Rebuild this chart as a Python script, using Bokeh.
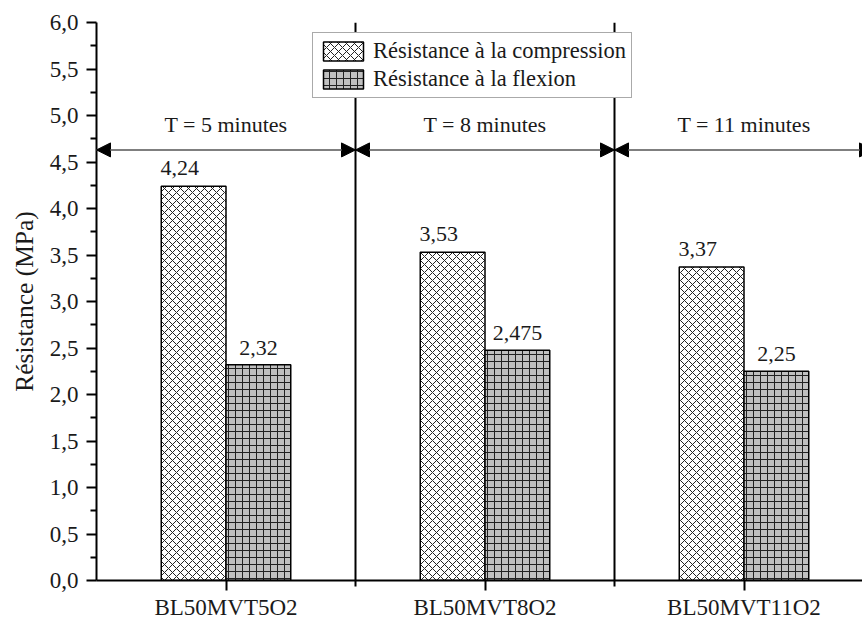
from bokeh.plotting import figure
from bokeh.models import (ColumnDataSource, FixedTicker, CustomJSTickFormatter, Span,
                          Arrow, NormalHead, Legend, LegendItem, Range1d, LabelSet, Label)
from bokeh.embed import file_html
from bokeh.resources import INLINE

categories = ["BL50MVT5O2", "BL50MVT8O2", "BL50MVT11O2"]
compression = [4.24, 3.53, 3.37]
flexion = [2.32, 2.475, 2.25]
periods = ["T = 5 minutes", "T = 8 minutes", "T = 11 minutes"]
series_names = ["Résistance à la compression", "Résistance à la flexion"]
y_ticks = [0.0, 0.5, 1.0, 1.5, 2.0, 2.5, 3.0, 3.5, 4.0, 4.5, 5.0, 5.5, 6.0]
arrow_level = 4.63
period_text_level = 4.9

FONT = "Liberation Serif"
TXT = "#1a1a1a"

centers = [i + 0.5 for i in range(len(categories))]
bw = 0.25

p = figure(output_backend="svg", toolbar_location=None,
           frame_width=766, frame_height=558,
           min_border_left=96, min_border_right=0, min_border_top=22, min_border_bottom=41,
           x_range=Range1d(0, 766 / 259.0), y_range=Range1d(0, 6.0))
p.outline_line_color = None
p.xgrid.visible = False
p.ygrid.visible = False
p.background_fill_color = "white"
p.border_fill_color = "white"

src_c = ColumnDataSource(dict(x=[c - bw / 2 for c in centers], top=compression,
                              lab=[str(v).replace(".", ",") for v in compression]))
src_f = ColumnDataSource(dict(x=[c + bw / 2 for c in centers], top=flexion,
                              lab=[str(v).replace(".", ",") for v in flexion]))

rc = p.vbar(x="x", top="top", width=bw, bottom=0, source=src_c,
            fill_color="white", line_color="black", line_width=1.5,
            hatch_pattern="diagonal_cross", hatch_color="#222222", hatch_weight=1, hatch_scale=8)
rf = p.vbar(x="x", top="top", width=bw, bottom=0, source=src_f,
            fill_color="#c0c0c0", line_color="black", line_width=1.5,
            hatch_pattern="cross", hatch_color="#222222", hatch_weight=1, hatch_scale=7)

p.add_layout(LabelSet(x="x", y="top", text="lab", source=src_c, text_align="center",
                      text_baseline="bottom", x_offset=-14, y_offset=11, text_font=FONT,
                      text_font_size="22px", text_color=TXT))
p.add_layout(LabelSet(x="x", y="top", text="lab", source=src_f, text_align="center",
                      text_baseline="bottom", x_offset=0, y_offset=10, text_font=FONT,
                      text_font_size="22px", text_color=TXT))

# separators
for i in range(1, len(categories)):
    p.add_layout(Span(location=i, dimension="height", line_color="black", line_width=2))

# period arrows and texts
for i, t in enumerate(periods):
    p.add_layout(Arrow(x_start=i, x_end=i + 1, y_start=arrow_level, y_end=arrow_level,
                       line_color="#7f7f7f", line_width=2,
                       start=NormalHead(size=14, fill_color="black", line_color="black", line_width=1),
                       end=NormalHead(size=14, fill_color="black", line_color="black", line_width=1)))
    p.add_layout(Label(x=centers[i], y=period_text_level, text=t, text_align="center",
                       text_baseline="middle", text_font=FONT, text_font_size="22px",
                       text_color=TXT))

# y axis
p.yaxis.ticker = FixedTicker(ticks=y_ticks,
                             minor_ticks=[v + 0.25 for v in y_ticks[:-1]])
p.yaxis.formatter = CustomJSTickFormatter(code="return tick.toFixed(1).replace('.', ',');")
p.yaxis.axis_label = "Résistance (MPa)"
p.yaxis.axis_label_text_font = FONT
p.yaxis.axis_label_text_font_size = "25.5px"
p.yaxis.axis_label_text_font_style = "normal"
p.yaxis.axis_label_text_color = TXT
p.yaxis.axis_label_standoff = 8

# x axis
p.xaxis.ticker = FixedTicker(ticks=centers, minor_ticks=[1, 2, 3])
p.xaxis.major_label_overrides = {c: n for c, n in zip(centers, categories)}

for ax in (p.xaxis, p.yaxis):
    ax.axis_line_width = 2
    ax.axis_line_color = "black"
    ax.major_tick_line_width = 2
    ax.major_tick_line_color = "black"
    ax.minor_tick_line_width = 2
    ax.minor_tick_line_color = "black"
    ax.major_tick_out = 10
    ax.major_tick_in = 0
    ax.minor_tick_out = 6
    ax.minor_tick_in = 0
    ax.major_label_text_font = FONT
    ax.major_label_text_font_size = "23px"
    ax.major_label_text_color = TXT
p.yaxis.major_label_standoff = 8
p.xaxis.major_label_standoff = 4

legend = Legend(items=[LegendItem(label=series_names[0], renderers=[rc]),
                       LegendItem(label=series_names[1], renderers=[rf])],
                location=(216, 482), orientation="vertical",
                label_text_font=FONT, label_text_font_size="22.5px", label_text_color=TXT,
                glyph_width=50, glyph_height=24, spacing=2, padding=5, margin=0,
                label_standoff=5, label_height=26,
                border_line_color="#555555", border_line_width=1.5,
                background_fill_alpha=1.0)
p.add_layout(legend, "center")

open("out.html", "w").write(file_html(p, INLINE))
